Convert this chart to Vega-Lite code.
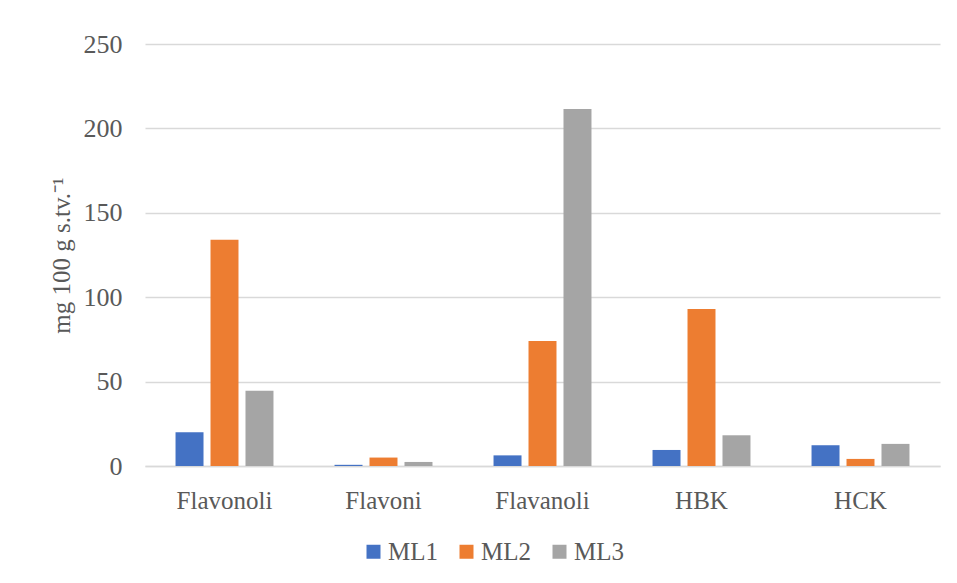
{
  "$schema": "https://vega.github.io/schema/vega-lite/v6.json",
  "width": 795,
  "height": 422,
  "autosize": {"type": "none"},
  "padding": {"left": 145, "top": 44, "right": 17, "bottom": 117},
  "background": "white",
  "data": {
    "values": [
      {"category": "Flavonoli", "series": "ML1", "value": 20},
      {"category": "Flavonoli", "series": "ML2", "value": 134},
      {"category": "Flavonoli", "series": "ML3", "value": 44.6},
      {"category": "Flavoni", "series": "ML1", "value": 0.7},
      {"category": "Flavoni", "series": "ML2", "value": 5},
      {"category": "Flavoni", "series": "ML3", "value": 2.4},
      {"category": "Flavanoli", "series": "ML1", "value": 6.3},
      {"category": "Flavanoli", "series": "ML2", "value": 74},
      {"category": "Flavanoli", "series": "ML3", "value": 211.5},
      {"category": "HBK", "series": "ML1", "value": 9.5},
      {"category": "HBK", "series": "ML2", "value": 93},
      {"category": "HBK", "series": "ML3", "value": 18.2},
      {"category": "HCK", "series": "ML1", "value": 12.3},
      {"category": "HCK", "series": "ML2", "value": 4.2},
      {"category": "HCK", "series": "ML3", "value": 13.1}
    ]
  },
  "mark": {"type": "bar"},
  "encoding": {
    "x": {
      "field": "category",
      "type": "nominal",
      "sort": ["Flavonoli", "Flavoni", "Flavanoli", "HBK", "HCK"],
      "scale": {"paddingInner": 0.384, "paddingOuter": 0.192},
      "axis": {
        "title": null,
        "labelAngle": 0,
        "labelFont": "Liberation Serif",
        "labelFontSize": 25,
        "labelColor": "#595959",
        "labelPadding": 22,
        "ticks": false,
        "domainColor": "#d9d9d9",
        "domainWidth": 1.5
      }
    },
    "xOffset": {
      "field": "series",
      "type": "nominal",
      "scale": {"paddingInner": 0.2, "paddingOuter": 0}
    },
    "y": {
      "field": "value",
      "type": "quantitative",
      "scale": {"domain": [0, 250]},
      "axis": {
        "values": [0, 50, 100, 150, 200, 250],
        "title": "mg 100 g s.tv.⁻¹",
        "titleFont": "Liberation Serif",
        "titleFontSize": 25,
        "titleFontWeight": "normal",
        "titleColor": "#595959",
        "titlePadding": 9,
        "labelFont": "Liberation Serif",
        "labelFontSize": 26,
        "labelColor": "#595959",
        "labelPadding": 23,
        "ticks": false,
        "domain": false,
        "gridColor": "#d9d9d9",
        "gridWidth": 1.5
      }
    },
    "color": {
      "field": "series",
      "type": "nominal",
      "scale": {"domain": ["ML1", "ML2", "ML3"], "range": ["#4472C4", "#ED7D31", "#A5A5A5"]},
      "legend": {
        "title": null,
        "orient": "none",
        "legendX": 216,
        "legendY": 495,
        "direction": "horizontal",
        "columns": 3,
        "symbolType": "square",
        "symbolSize": 196,
        "symbolStrokeWidth": 0,
        "labelFont": "Liberation Serif",
        "labelFontSize": 25,
        "labelColor": "#595959",
        "labelOffset": 2,
        "columnPadding": 16
      }
    }
  },
  "config": {"view": {"stroke": null}}
}
